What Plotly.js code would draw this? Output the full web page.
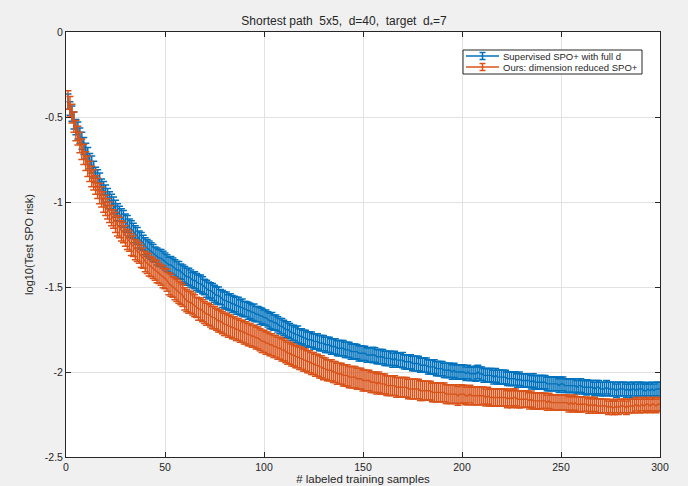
<!DOCTYPE html>
<html><head><meta charset="utf-8">
<script src="https://cdn.plot.ly/plotly-3.0.1.min.js"></script>
<style>html,body{margin:0;padding:0;background:#f0f0f0;}#chart{width:688px;height:486px;}</style>
</head><body><div id="chart"></div>
<script>
// training sample counts 1..300
const samples = Array.from({length: 300}, (_, i) => i + 1);

const supervisedMean = [
-0.41,-0.45,-0.48,-0.52,-0.56,-0.58,-0.61,-0.64,-0.67,-0.70,
-0.73,-0.76,-0.78,-0.81,-0.84,-0.86,-0.88,-0.91,-0.93,-0.95,
-0.97,-0.99,-1.00,-1.02,-1.04,-1.06,-1.07,-1.09,-1.10,-1.12,
-1.13,-1.15,-1.16,-1.17,-1.19,-1.20,-1.22,-1.23,-1.24,-1.26,
-1.27,-1.28,-1.29,-1.30,-1.31,-1.32,-1.33,-1.33,-1.34,-1.35,
-1.36,-1.37,-1.37,-1.38,-1.39,-1.40,-1.40,-1.41,-1.42,-1.43,
-1.44,-1.44,-1.45,-1.46,-1.46,-1.47,-1.48,-1.48,-1.49,-1.50,
-1.51,-1.52,-1.52,-1.53,-1.54,-1.55,-1.55,-1.56,-1.57,-1.58,
-1.58,-1.59,-1.59,-1.60,-1.60,-1.61,-1.61,-1.62,-1.62,-1.63,
-1.63,-1.64,-1.64,-1.65,-1.65,-1.66,-1.66,-1.67,-1.67,-1.68,
-1.68,-1.69,-1.70,-1.70,-1.71,-1.71,-1.72,-1.73,-1.73,-1.74,
-1.75,-1.75,-1.76,-1.77,-1.77,-1.78,-1.78,-1.79,-1.79,-1.80,
-1.80,-1.81,-1.81,-1.81,-1.82,-1.82,-1.82,-1.83,-1.83,-1.83,
-1.84,-1.84,-1.84,-1.85,-1.85,-1.85,-1.86,-1.86,-1.86,-1.86,
-1.87,-1.87,-1.87,-1.88,-1.88,-1.88,-1.88,-1.89,-1.89,-1.89,
-1.89,-1.90,-1.90,-1.90,-1.90,-1.90,-1.91,-1.91,-1.91,-1.91,
-1.92,-1.92,-1.92,-1.92,-1.93,-1.92,-1.93,-1.93,-1.93,-1.93,
-1.94,-1.94,-1.94,-1.94,-1.95,-1.95,-1.95,-1.95,-1.96,-1.96,
-1.96,-1.96,-1.97,-1.97,-1.97,-1.97,-1.98,-1.98,-1.98,-1.98,
-1.99,-1.99,-1.99,-1.99,-2.00,-1.99,-2.00,-2.00,-2.00,-2.00,
-2.00,-2.01,-2.00,-2.01,-2.01,-2.01,-2.01,-2.00,-2.01,-2.01,
-2.02,-2.02,-2.02,-2.02,-2.02,-2.03,-2.02,-2.03,-2.03,-2.03,
-2.03,-2.03,-2.04,-2.04,-2.04,-2.04,-2.04,-2.05,-2.04,-2.05,
-2.05,-2.05,-2.05,-2.05,-2.06,-2.05,-2.06,-2.06,-2.06,-2.06,
-2.06,-2.06,-2.07,-2.07,-2.07,-2.07,-2.07,-2.07,-2.08,-2.07,
-2.07,-2.08,-2.08,-2.08,-2.08,-2.08,-2.08,-2.09,-2.08,-2.08,
-2.09,-2.09,-2.09,-2.09,-2.09,-2.09,-2.10,-2.09,-2.09,-2.10,
-2.10,-2.10,-2.09,-2.10,-2.10,-2.10,-2.10,-2.11,-2.10,-2.10,
-2.10,-2.10,-2.11,-2.10,-2.11,-2.10,-2.10,-2.11,-2.10,-2.10,
-2.10,-2.11,-2.11,-2.10,-2.11,-2.10,-2.11,-2.10,-2.10,-2.10
];

const supervisedErr = [
.045,.040,.045,.050,.045,.050,.045,.050,.050,.045,
.050,.045,.050,.050,.045,.050,.050,.045,.050,.050,
.050,.050,.045,.050,.050,.050,.045,.050,.050,.050,
.050,.050,.050,.045,.050,.050,.050,.050,.045,.050,
.050,.050,.050,.050,.045,.050,.050,.050,.050,.050,
.050,.045,.050,.050,.050,.050,.050,.045,.050,.050,
.050,.050,.050,.045,.050,.050,.050,.050,.050,.045,
.050,.050,.045,.050,.050,.050,.050,.045,.050,.050,
.050,.045,.050,.050,.045,.050,.050,.045,.050,.045,
.045,.050,.045,.045,.050,.045,.045,.050,.045,.045,
.045,.045,.045,.050,.045,.045,.045,.045,.045,.045,
.045,.045,.045,.045,.045,.045,.050,.045,.045,.045,
.045,.045,.045,.045,.045,.045,.045,.045,.045,.045,
.045,.045,.045,.045,.045,.045,.045,.045,.045,.045,
.045,.045,.045,.045,.045,.045,.042,.045,.045,.042,
.042,.042,.042,.042,.045,.042,.042,.042,.042,.042,
.042,.042,.042,.042,.042,.042,.042,.042,.042,.045,
.042,.042,.042,.042,.042,.042,.042,.042,.042,.042,
.042,.042,.042,.042,.042,.042,.042,.042,.042,.042,
.042,.042,.042,.042,.042,.042,.042,.042,.042,.042,
.040,.040,.040,.040,.040,.040,.045,.040,.040,.040,
.040,.040,.040,.040,.040,.040,.040,.040,.040,.040,
.040,.040,.040,.040,.040,.040,.040,.040,.040,.040,
.040,.040,.040,.040,.040,.040,.040,.040,.040,.040,
.040,.040,.040,.040,.040,.040,.040,.040,.040,.040,
.040,.040,.040,.040,.040,.040,.040,.040,.040,.040,
.040,.040,.045,.040,.040,.040,.040,.040,.040,.040,
.040,.040,.040,.040,.040,.040,.040,.040,.040,.040,
.040,.040,.040,.040,.040,.040,.040,.040,.040,.040,
.040,.040,.040,.040,.040,.040,.040,.040,.040,.040
];

const reducedMean = [
-0.40,-0.44,-0.48,-0.53,-0.58,-0.61,-0.65,-0.69,-0.72,-0.76,
-0.79,-0.82,-0.85,-0.87,-0.90,-0.92,-0.95,-0.97,-1.00,-1.02,
-1.04,-1.06,-1.08,-1.10,-1.12,-1.14,-1.15,-1.17,-1.18,-1.20,
-1.22,-1.23,-1.25,-1.26,-1.28,-1.29,-1.30,-1.32,-1.33,-1.35,
-1.36,-1.37,-1.38,-1.39,-1.40,-1.41,-1.42,-1.43,-1.44,-1.45,
-1.46,-1.48,-1.49,-1.50,-1.51,-1.52,-1.53,-1.54,-1.55,-1.57,
-1.58,-1.59,-1.59,-1.60,-1.61,-1.62,-1.63,-1.63,-1.64,-1.65,
-1.66,-1.66,-1.67,-1.68,-1.68,-1.69,-1.70,-1.70,-1.71,-1.72,
-1.72,-1.73,-1.73,-1.74,-1.74,-1.75,-1.75,-1.76,-1.76,-1.77,
-1.77,-1.78,-1.78,-1.79,-1.79,-1.80,-1.80,-1.81,-1.82,-1.82,
-1.83,-1.83,-1.84,-1.84,-1.85,-1.85,-1.86,-1.86,-1.87,-1.87,
-1.88,-1.89,-1.89,-1.90,-1.90,-1.91,-1.91,-1.92,-1.92,-1.93,
-1.93,-1.94,-1.94,-1.95,-1.95,-1.96,-1.96,-1.97,-1.97,-1.98,
-1.98,-1.99,-1.99,-1.99,-2.00,-2.00,-2.01,-2.01,-2.01,-2.02,
-2.02,-2.02,-2.03,-2.03,-2.03,-2.03,-2.04,-2.04,-2.04,-2.05,
-2.05,-2.05,-2.05,-2.06,-2.06,-2.06,-2.07,-2.06,-2.07,-2.07,
-2.07,-2.08,-2.08,-2.08,-2.08,-2.08,-2.09,-2.09,-2.09,-2.09,
-2.09,-2.09,-2.10,-2.10,-2.10,-2.10,-2.10,-2.10,-2.11,-2.11,
-2.11,-2.11,-2.11,-2.11,-2.12,-2.12,-2.12,-2.12,-2.12,-2.12,
-2.12,-2.13,-2.13,-2.13,-2.13,-2.13,-2.13,-2.14,-2.13,-2.13,
-2.13,-2.14,-2.14,-2.13,-2.14,-2.14,-2.14,-2.14,-2.14,-2.14,
-2.14,-2.15,-2.14,-2.15,-2.15,-2.15,-2.15,-2.15,-2.15,-2.15,
-2.15,-2.15,-2.16,-2.15,-2.16,-2.15,-2.15,-2.16,-2.16,-2.16,
-2.16,-2.16,-2.16,-2.17,-2.16,-2.17,-2.17,-2.17,-2.17,-2.17,
-2.17,-2.17,-2.18,-2.17,-2.18,-2.18,-2.18,-2.18,-2.18,-2.18,
-2.18,-2.18,-2.18,-2.19,-2.18,-2.19,-2.18,-2.19,-2.19,-2.19,
-2.19,-2.19,-2.19,-2.20,-2.19,-2.20,-2.19,-2.20,-2.20,-2.20,
-2.20,-2.20,-2.20,-2.21,-2.20,-2.21,-2.21,-2.20,-2.21,-2.20,
-2.20,-2.20,-2.21,-2.20,-2.20,-2.20,-2.20,-2.19,-2.20,-2.20,
-2.19,-2.20,-2.19,-2.19,-2.20,-2.19,-2.19,-2.20,-2.19,-2.19
];

const reducedErr = [
.055,.060,.055,.060,.060,.055,.060,.060,.060,.055,
.060,.060,.060,.060,.055,.060,.060,.060,.060,.060,
.060,.060,.060,.055,.060,.060,.060,.060,.060,.060,
.060,.060,.065,.060,.060,.060,.060,.065,.060,.060,
.060,.065,.060,.060,.060,.065,.060,.060,.065,.060,
.065,.065,.065,.060,.065,.065,.065,.065,.065,.065,
.065,.065,.065,.065,.065,.060,.065,.065,.065,.065,
.065,.065,.065,.065,.065,.065,.065,.065,.065,.065,
.065,.065,.065,.065,.065,.065,.065,.065,.065,.065,
.065,.065,.065,.065,.065,.065,.065,.065,.065,.065,
.065,.065,.065,.065,.065,.065,.065,.065,.065,.065,
.065,.065,.065,.065,.065,.065,.065,.065,.065,.065,
.065,.065,.065,.065,.065,.065,.065,.065,.065,.065,
.062,.062,.062,.062,.062,.062,.062,.062,.062,.062,
.062,.062,.062,.062,.062,.062,.062,.062,.062,.062,
.060,.060,.060,.060,.060,.060,.060,.060,.060,.060,
.058,.058,.058,.058,.058,.058,.058,.058,.058,.058,
.058,.058,.058,.058,.058,.058,.058,.058,.058,.058,
.055,.055,.055,.055,.055,.055,.055,.055,.055,.055,
.055,.055,.055,.055,.055,.055,.055,.055,.055,.055,
.052,.052,.052,.052,.052,.052,.052,.052,.052,.052,
.050,.050,.050,.050,.050,.050,.050,.050,.050,.050,
.050,.050,.050,.050,.050,.050,.050,.050,.050,.050,
.048,.048,.048,.048,.048,.048,.048,.048,.048,.048,
.045,.045,.045,.045,.045,.045,.045,.045,.045,.045,
.045,.045,.045,.045,.045,.045,.045,.045,.045,.045,
.042,.042,.042,.042,.042,.042,.042,.042,.042,.042,
.040,.040,.040,.040,.040,.040,.040,.040,.040,.040,
.040,.040,.040,.040,.040,.040,.040,.040,.040,.040,
.040,.040,.040,.040,.040,.040,.040,.040,.040,.040
];

const seriesNames = ['Supervised SPO+ with full d', 'Ours: dimension reduced SPO+'];
const seriesColors = ['#0072BD', '#D95319'];
const xTicks = [0, 50, 100, 150, 200, 250, 300];
const yTicks = [0, -0.5, -1, -1.5, -2, -2.5];
const yTickLabels = ['0', '-0.5', '-1', '-1.5', '-2', '-2.5'];

const means = [supervisedMean, reducedMean];
const errs = [supervisedErr, reducedErr];

const traces = [];
for (let k = 0; k < 2; k++) {
  traces.push({
    x: samples, y: means[k], type: 'scatter', mode: 'lines', name: seriesNames[k],
    line: {color: seriesColors[k], width: 1.4},
    error_y: {type: 'data', array: errs[k], visible: true, color: seriesColors[k], thickness: 1.5, width: 3.5},
    showlegend: false, hoverinfo: 'skip'
  });
}

// plot-area pixel frame (for placing the hand-made legend)
const PL = 66, PR = 660, PT = 32, PB = 457;
const px = v => (v - PL) / (PR - PL);
const py = v => (PB - v) / (PB - PT);

const fam = 'Liberation Sans, Arial, Helvetica, sans-serif';
const shapes = [];
const annotations = [];
// legend box
shapes.push({type: 'rect', xref: 'paper', yref: 'paper', x0: px(463), x1: px(642), y0: py(74), y1: py(50),
  fillcolor: '#ffffff', line: {color: '#262626', width: 1}, layer: 'above'});
const rowY = [56, 67];
for (let k = 0; k < 2; k++) {
  const c = seriesColors[k], yy = rowY[k];
  shapes.push({type: 'line', xref: 'paper', yref: 'paper', x0: px(466), x1: px(499), y0: py(yy), y1: py(yy), line: {color: c, width: 1.5}, layer: 'above'});
  shapes.push({type: 'line', xref: 'paper', yref: 'paper', x0: px(482.5), x1: px(482.5), y0: py(yy - 3.5), y1: py(yy + 3.5), line: {color: c, width: 1.5}, layer: 'above'});
  shapes.push({type: 'line', xref: 'paper', yref: 'paper', x0: px(479.5), x1: px(485.5), y0: py(yy - 3.5), y1: py(yy - 3.5), line: {color: c, width: 1.5}, layer: 'above'});
  shapes.push({type: 'line', xref: 'paper', yref: 'paper', x0: px(479.5), x1: px(485.5), y0: py(yy + 3.5), y1: py(yy + 3.5), line: {color: c, width: 1.5}, layer: 'above'});
  annotations.push({xref: 'paper', yref: 'paper', x: px(501), y: py(yy), xanchor: 'left', yanchor: 'middle',
    text: seriesNames[k], showarrow: false, font: {family: fam, size: 9.5, color: '#262626'}});
}

const axisCommon = {
  showline: true, mirror: 'ticks', linecolor: '#262626', linewidth: 1,
  ticks: 'inside', ticklen: 5, tickcolor: '#262626', tickwidth: 1,
  showgrid: true, gridcolor: '#e2e2e2', gridwidth: 1, zeroline: false,
  tickfont: {family: fam, size: 10.5, color: '#262626'}
};

const layout = {
  width: 688, height: 486,
  paper_bgcolor: '#f0f0f0', plot_bgcolor: '#ffffff',
  margin: {l: PL, r: 688 - PR, t: PT, b: 486 - PB, pad: 0},
  font: {family: fam, size: 10, color: '#262626'},
  title: {text: 'Shortest path  5x5,  d=40,  target  d<sub>*</sub>=7', font: {family: fam, size: 12, color: '#262626'},
    x: 0.5, xanchor: 'center', y: 1 - 21 / 486, yref: 'container', yanchor: 'middle', automargin: false},
  xaxis: Object.assign({}, axisCommon, {
    range: [0, 300], tickvals: xTicks, ticktext: xTicks.map(String),
    title: {text: '# labeled training samples', font: {family: fam, size: 11.5, color: '#262626'}, standoff: 1}
  }),
  yaxis: Object.assign({}, axisCommon, {
    range: [-2.5, 0], tickvals: yTicks, ticktext: yTickLabels,
    title: {text: 'log10(Test SPO risk)', font: {family: fam, size: 11, color: '#262626'}, standoff: 8}
  }),
  shapes: shapes,
  annotations: annotations,
  showlegend: false
};

Plotly.newPlot('chart', traces, layout, {displayModeBar: false, staticPlot: true});
</script></body></html>
